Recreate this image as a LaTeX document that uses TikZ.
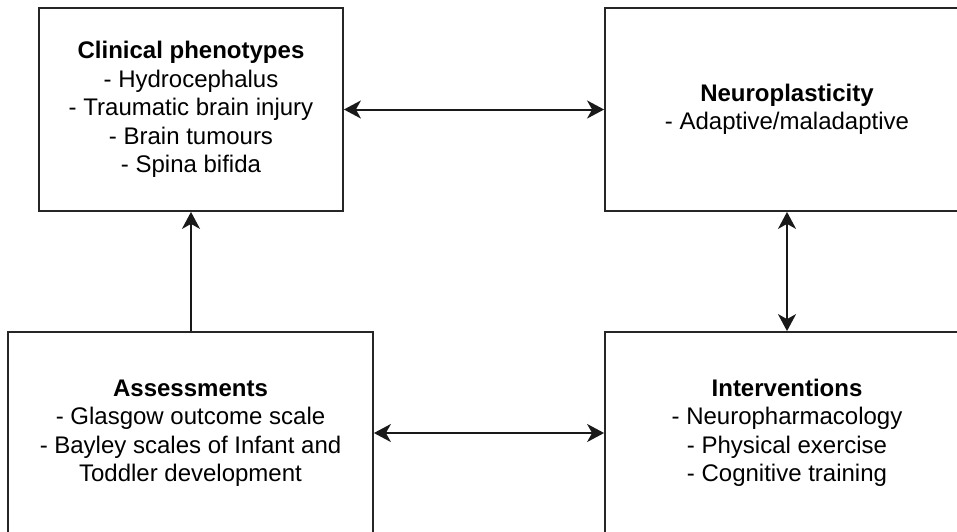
\documentclass[tikz,border=0pt]{standalone}
\usepackage{fontspec}
\setmainfont{Liberation Sans}
\usepackage{tikz}
\usetikzlibrary{positioning, arrows.meta, calc}

\begin{document}
\begin{tikzpicture}[
    x=1pt, y=-1pt,
    block/.style={rectangle, draw=black!85, line width=1.8pt, align=center, fill=white, inner sep=0pt, font=\fontsize{24}{28.5}\selectfont},
    link/.style={-{Stealth[length=17pt, width=18pt, inset=5pt]}, line width=2pt, black!90},
    both/.style={{Stealth[length=17pt, width=18pt, inset=5pt]}-{Stealth[length=17pt, width=18pt, inset=5pt]}, line width=2pt, black!90}
]
    \useasboundingbox (0, 0) rectangle (957, 531);
    \clip (0, 0) rectangle (957, 531);
    % top row
    \node[block, minimum width=304pt, minimum height=203pt] (clin) at (191, 109.5) {\textbf{Clinical phenotypes}\\- Hydrocephalus\\- Traumatic brain injury\\- Brain tumours\\- Spina bifida};
    \node[block, minimum width=364pt, minimum height=203pt] (neuro) at (787, 109.5) {\textbf{Neuroplasticity}\\- Adaptive/maladaptive};
    % bottom row
    \node[block, minimum width=365pt, minimum height=202pt] (assess) at (190.5, 433) {\textbf{Assessments}\\- Glasgow outcome scale\\- Bayley scales of Infant and\\Toddler development};
    \node[block, minimum width=364pt, minimum height=202pt] (interv) at (787, 433) {\textbf{Interventions}\\- Neuropharmacology\\- Physical exercise\\- Cognitive training};
    % links
    \draw[both] (clin) -- (neuro);
    \draw[both] (neuro) -- (interv);
    \draw[both] (assess) -- (interv);
    \draw[link] (assess.north -| clin.south) -- (clin.south);
\end{tikzpicture}
\end{document}
